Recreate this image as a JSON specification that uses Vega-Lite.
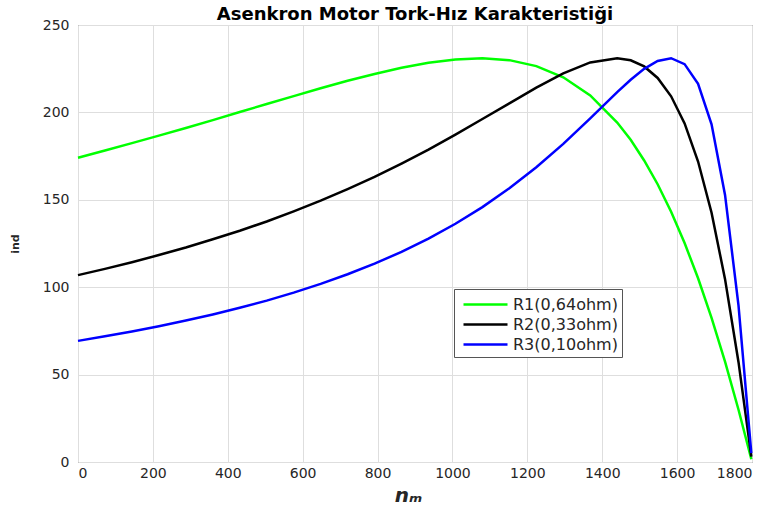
{
  "$schema": "https://vega.github.io/schema/vega-lite/v6.json",
  "width": 674,
  "height": 437,
  "autosize": "none",
  "padding": {"left": 78, "top": 25, "right": 18, "bottom": 64},
  "background": "white",
  "title": {"text": "Asenkron Motor Tork-Hız Karakteristiği", "font": "DejaVu Sans", "fontSize": 18, "fontWeight": "bold", "color": "#000000", "anchor": "middle", "offset": -6},
  "config": {
    "view": {"stroke": "#4d4d4d", "strokeWidth": 1},
    "axis": {"labelFont": "DejaVu Sans", "labelFontSize": 14, "labelColor": "#262626", "gridColor": "#dedede", "gridOpacity": 1, "domain": false, "ticks": false, "format": "d"}
  },
  "data": {"values": [
    {"n": 1798.2, "T": 1.55, "seri": "R1(0,64ohm)"},
    {"n": 1764, "T": 29.9, "seri": "R1(0,64ohm)"},
    {"n": 1728, "T": 57.4, "seri": "R1(0,64ohm)"},
    {"n": 1692, "T": 82.5, "seri": "R1(0,64ohm)"},
    {"n": 1656, "T": 105.1, "seri": "R1(0,64ohm)"},
    {"n": 1620, "T": 125.3, "seri": "R1(0,64ohm)"},
    {"n": 1584, "T": 143.2, "seri": "R1(0,64ohm)"},
    {"n": 1548, "T": 158.9, "seri": "R1(0,64ohm)"},
    {"n": 1512, "T": 172.5, "seri": "R1(0,64ohm)"},
    {"n": 1476, "T": 184.3, "seri": "R1(0,64ohm)"},
    {"n": 1440, "T": 194.2, "seri": "R1(0,64ohm)"},
    {"n": 1368, "T": 209.7, "seri": "R1(0,64ohm)"},
    {"n": 1296, "T": 220.1, "seri": "R1(0,64ohm)"},
    {"n": 1224, "T": 226.5, "seri": "R1(0,64ohm)"},
    {"n": 1152, "T": 229.9, "seri": "R1(0,64ohm)"},
    {"n": 1080, "T": 231.0, "seri": "R1(0,64ohm)"},
    {"n": 1008, "T": 230.3, "seri": "R1(0,64ohm)"},
    {"n": 936, "T": 228.4, "seri": "R1(0,64ohm)"},
    {"n": 864, "T": 225.5, "seri": "R1(0,64ohm)"},
    {"n": 792, "T": 222.0, "seri": "R1(0,64ohm)"},
    {"n": 720, "T": 218.1, "seri": "R1(0,64ohm)"},
    {"n": 648, "T": 213.8, "seri": "R1(0,64ohm)"},
    {"n": 576, "T": 209.3, "seri": "R1(0,64ohm)"},
    {"n": 504, "T": 204.8, "seri": "R1(0,64ohm)"},
    {"n": 432, "T": 200.2, "seri": "R1(0,64ohm)"},
    {"n": 360, "T": 195.6, "seri": "R1(0,64ohm)"},
    {"n": 288, "T": 191.1, "seri": "R1(0,64ohm)"},
    {"n": 216, "T": 186.7, "seri": "R1(0,64ohm)"},
    {"n": 144, "T": 182.4, "seri": "R1(0,64ohm)"},
    {"n": 72, "T": 178.2, "seri": "R1(0,64ohm)"},
    {"n": 0, "T": 174.1, "seri": "R1(0,64ohm)"},
    {"n": 1798.2, "T": 3.07, "seri": "R2(0,33ohm)"},
    {"n": 1764, "T": 57.1, "seri": "R2(0,33ohm)"},
    {"n": 1728, "T": 104.6, "seri": "R2(0,33ohm)"},
    {"n": 1692, "T": 142.6, "seri": "R2(0,33ohm)"},
    {"n": 1656, "T": 171.9, "seri": "R2(0,33ohm)"},
    {"n": 1620, "T": 193.7, "seri": "R2(0,33ohm)"},
    {"n": 1584, "T": 209.2, "seri": "R2(0,33ohm)"},
    {"n": 1548, "T": 219.7, "seri": "R2(0,33ohm)"},
    {"n": 1512, "T": 226.3, "seri": "R2(0,33ohm)"},
    {"n": 1476, "T": 229.8, "seri": "R2(0,33ohm)"},
    {"n": 1440, "T": 231.0, "seri": "R2(0,33ohm)"},
    {"n": 1368, "T": 228.6, "seri": "R2(0,33ohm)"},
    {"n": 1296, "T": 222.3, "seri": "R2(0,33ohm)"},
    {"n": 1224, "T": 214.2, "seri": "R2(0,33ohm)"},
    {"n": 1152, "T": 205.2, "seri": "R2(0,33ohm)"},
    {"n": 1080, "T": 196.2, "seri": "R2(0,33ohm)"},
    {"n": 1008, "T": 187.3, "seri": "R2(0,33ohm)"},
    {"n": 936, "T": 178.7, "seri": "R2(0,33ohm)"},
    {"n": 864, "T": 170.7, "seri": "R2(0,33ohm)"},
    {"n": 792, "T": 163.1, "seri": "R2(0,33ohm)"},
    {"n": 720, "T": 156.1, "seri": "R2(0,33ohm)"},
    {"n": 648, "T": 149.5, "seri": "R2(0,33ohm)"},
    {"n": 576, "T": 143.4, "seri": "R2(0,33ohm)"},
    {"n": 504, "T": 137.6, "seri": "R2(0,33ohm)"},
    {"n": 432, "T": 132.3, "seri": "R2(0,33ohm)"},
    {"n": 360, "T": 127.4, "seri": "R2(0,33ohm)"},
    {"n": 288, "T": 122.7, "seri": "R2(0,33ohm)"},
    {"n": 216, "T": 118.4, "seri": "R2(0,33ohm)"},
    {"n": 144, "T": 114.3, "seri": "R2(0,33ohm)"},
    {"n": 72, "T": 110.5, "seri": "R2(0,33ohm)"},
    {"n": 0, "T": 106.9, "seri": "R2(0,33ohm)"},
    {"n": 1798.2, "T": 5.08, "seri": "R3(0,10ohm)"},
    {"n": 1764, "T": 89.5, "seri": "R3(0,10ohm)"},
    {"n": 1728, "T": 152.8, "seri": "R3(0,10ohm)"},
    {"n": 1692, "T": 193.2, "seri": "R3(0,10ohm)"},
    {"n": 1656, "T": 216.4, "seri": "R3(0,10ohm)"},
    {"n": 1620, "T": 227.6, "seri": "R3(0,10ohm)"},
    {"n": 1584, "T": 231.0, "seri": "R3(0,10ohm)"},
    {"n": 1548, "T": 229.4, "seri": "R3(0,10ohm)"},
    {"n": 1512, "T": 224.9, "seri": "R3(0,10ohm)"},
    {"n": 1476, "T": 218.7, "seri": "R3(0,10ohm)"},
    {"n": 1440, "T": 211.6, "seri": "R3(0,10ohm)"},
    {"n": 1368, "T": 196.6, "seri": "R3(0,10ohm)"},
    {"n": 1296, "T": 182.0, "seri": "R3(0,10ohm)"},
    {"n": 1224, "T": 168.6, "seri": "R3(0,10ohm)"},
    {"n": 1152, "T": 156.6, "seri": "R3(0,10ohm)"},
    {"n": 1080, "T": 145.8, "seri": "R3(0,10ohm)"},
    {"n": 1008, "T": 136.3, "seri": "R3(0,10ohm)"},
    {"n": 936, "T": 127.8, "seri": "R3(0,10ohm)"},
    {"n": 864, "T": 120.2, "seri": "R3(0,10ohm)"},
    {"n": 792, "T": 113.5, "seri": "R3(0,10ohm)"},
    {"n": 720, "T": 107.4, "seri": "R3(0,10ohm)"},
    {"n": 648, "T": 101.9, "seri": "R3(0,10ohm)"},
    {"n": 576, "T": 96.9, "seri": "R3(0,10ohm)"},
    {"n": 504, "T": 92.3, "seri": "R3(0,10ohm)"},
    {"n": 432, "T": 88.2, "seri": "R3(0,10ohm)"},
    {"n": 360, "T": 84.4, "seri": "R3(0,10ohm)"},
    {"n": 288, "T": 80.9, "seri": "R3(0,10ohm)"},
    {"n": 216, "T": 77.7, "seri": "R3(0,10ohm)"},
    {"n": 144, "T": 74.7, "seri": "R3(0,10ohm)"},
    {"n": 72, "T": 71.9, "seri": "R3(0,10ohm)"},
    {"n": 0, "T": 69.3, "seri": "R3(0,10ohm)"}
  ]},
  "mark": {"type": "line", "strokeWidth": 2.5},
  "encoding": {
    "x": {"field": "n", "type": "quantitative", "scale": {"domain": [0, 1800], "nice": false, "zero": false},
      "axis": {"values": [0, 200, 400, 600, 800, 1000, 1200, 1400, 1600, 1800], "labelPadding": 4, "title": "nₘ", "titleFont": "DejaVu Sans", "titleFontSize": 20, "titleFontWeight": "bold", "titleFontStyle": "italic", "titleColor": "#262626", "titlePadding": 5, "titleX": 330}},
    "y": {"field": "T", "type": "quantitative", "scale": {"domain": [0, 250], "nice": false},
      "axis": {"values": [0, 50, 100, 150, 200, 250], "labelPadding": 9, "title": "ind", "titleFont": "DejaVu Sans", "titleFontSize": 11, "titleFontWeight": "bold", "titleColor": "#262626", "titlePadding": 22}},
    "color": {"field": "seri", "type": "nominal",
      "scale": {"domain": ["R1(0,64ohm)", "R2(0,33ohm)", "R3(0,10ohm)"], "range": ["#00ff00", "#000000", "#0000ff"]},
      "legend": {"title": null, "orient": "none", "legendX": 376, "legendY": 264, "symbolType": "M-2.2,0H2.2", "symbolStrokeWidth": 2.5, "symbolSize": 400, "symbolOffset": 16, "labelFont": "DejaVu Sans", "labelFontSize": 16, "labelColor": "#262626", "strokeColor": "#555555", "fillColor": "white", "padding": 4, "rowPadding": -1, "labelOffset": 16}}
  }
}
